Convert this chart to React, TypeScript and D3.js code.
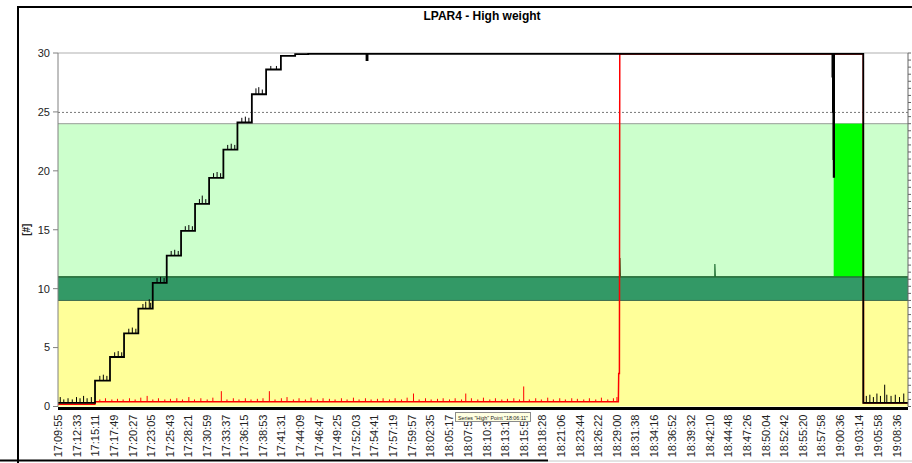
import React from 'react';
import * as d3 from 'd3';

// time values are minutes past 17:00
const tickLabels = [
  '17:09:55', '17:12:33', '17:15:11', '17:17:49', '17:20:27', '17:23:05', '17:25:43', '17:28:21',
  '17:30:59', '17:33:37', '17:36:15', '17:38:53', '17:41:31', '17:44:09', '17:46:47', '17:49:25',
  '17:52:03', '17:54:41', '17:57:19', '17:59:57', '18:02:35', '18:05:17', '18:07:56', '18:10:34',
  '18:13:12', '18:15:50', '18:18:28', '18:21:06', '18:23:44', '18:26:22', '18:29:00', '18:31:38',
  '18:34:16', '18:36:52', '18:39:32', '18:42:10', '18:44:48', '18:47:26', '18:50:04', '18:52:42',
  '18:55:20', '18:57:58', '19:00:36', '19:03:14', '19:05:58', '19:08:36',
];

const yTicks = [0, 5, 10, 15, 20, 25, 30];

// limit bands [from, to, fill]
const bands: [number, number, string][] = [
  [0, 9, '#FFFF99'],
  [9, 11, '#339966'],
  [11, 24, '#CCFFCC'],
];

// alarm area [start, end, low, high]
const alarm = [119.68, 123.87, 11, 24];

// "High" series, step levels
const highSteps: [number, number][] = [
  [9.88, 0.3], [15.12, 2.2], [17.24, 4.2], [19.23, 6.2], [21.25, 8.3], [23.29, 10.5],
  [25.27, 12.8], [27.3, 14.9], [29.28, 17.2], [31.27, 19.4], [33.29, 21.8], [35.28, 24.1],
  [37.32, 26.5], [39.34, 28.6], [41.43, 29.75], [43.45, 29.9], [45.3, 29.92], [53.55, 29.4],
  [53.7, 29.92], [119.5, 28], [119.57, 25], [119.63, 21], [119.68, 19.5], [119.74, 29.92],
  [123.87, 0.3], [130.2, 0.3],
];

const highSpikes: [number, number][] = [
  [10.2, 0.8], [10.7, 0.6], [11.3, 0.7], [11.9, 0.6], [12.5, 0.8], [13.0, 0.7], [13.5, 0.9], [14.0, 0.7], [14.6, 0.8],
  [15.8, 2.6], [16.3, 2.7], [16.8, 2.6],
  [17.9, 4.6], [18.4, 4.7], [18.9, 4.6],
  [19.9, 6.6], [20.4, 6.7], [20.9, 6.6],
  [21.9, 8.7], [22.3, 8.9], [22.8, 9.1], [23.0, 8.8],
  [23.9, 10.9], [24.4, 11.0], [24.9, 10.9],
  [25.9, 13.2], [26.4, 13.3], [26.9, 13.2],
  [27.9, 15.3], [28.4, 15.4], [28.9, 15.3],
  [29.9, 17.6], [30.3, 17.9], [30.8, 17.6],
  [31.9, 19.8], [32.4, 19.9], [32.9, 19.8],
  [33.9, 22.2], [34.4, 22.3], [34.9, 22.2],
  [35.9, 24.5], [36.4, 24.6], [36.9, 24.5],
  [37.9, 27.0], [38.3, 27.1], [38.8, 26.9],
  [40.0, 28.9], [40.8, 28.9],
  [124.3, 0.9], [124.8, 1.0], [125.3, 0.8], [125.8, 1.1], [126.3, 0.9], [126.9, 1.85],
  [127.2, 1.0], [127.8, 0.9], [128.4, 1.0], [129.0, 0.8], [129.6, 1.1],
];

// "Low" series (red)
const lowLine: [number, number][] = [
  [9.88, 0.2], [15.1, 0.2], [15.14, 0.4], [89.2, 0.4], [89.25, 2.8], [89.35, 2.8], [89.4, 29.92],
  [123.87, 29.92], [123.9, 0.3], [130.2, 0.3],
];

const lowSpikes: [number, number][] = [
  [15.8, 0.6], [16.6, 0.7], [17.5, 0.6], [18.3, 0.65], [19.1, 0.6], [20.0, 0.7], [20.8, 0.6], [21.6, 0.75],
  [22.5, 0.9], [23.3, 0.6], [24.1, 0.7], [25.0, 0.6], [25.8, 0.65], [26.7, 0.7], [27.5, 0.6], [28.4, 0.8],
  [29.2, 0.6], [30.1, 0.7], [31.0, 0.6], [31.8, 0.75], [33.0, 1.3], [33.8, 0.6], [34.7, 0.7], [35.5, 0.6],
  [36.4, 0.7], [37.2, 0.6], [38.1, 0.65], [38.9, 0.7], [39.8, 1.3], [40.6, 0.6], [41.5, 0.7], [42.3, 0.8],
  [43.2, 0.6], [44.0, 0.7], [44.9, 0.6], [45.7, 0.75], [46.6, 0.6], [47.4, 0.7], [48.3, 0.65], [49.1, 0.6],
  [50.0, 0.7], [50.8, 0.6], [51.7, 0.75], [52.5, 0.6], [53.4, 0.7], [54.2, 0.6], [55.1, 0.65], [55.9, 0.7],
  [56.8, 0.6], [57.6, 0.7], [58.5, 0.6], [59.3, 0.75], [60.2, 1.1], [61.0, 0.6], [61.9, 0.7], [62.7, 0.6],
  [63.6, 0.65], [64.4, 0.7], [65.3, 0.6], [66.1, 0.7], [67.0, 0.6], [67.6, 1.1], [68.4, 0.7], [69.3, 0.6],
  [70.1, 0.75], [71.0, 0.6], [71.8, 0.7], [72.7, 0.6], [73.5, 0.65], [74.4, 0.7], [75.2, 0.6], [75.8, 1.7],
  [76.6, 0.6], [77.5, 0.7], [78.3, 0.6], [79.2, 0.75], [80.0, 0.6], [80.9, 0.7], [81.7, 0.6], [82.6, 0.7],
  [83.4, 0.65], [84.3, 0.6], [85.1, 0.7], [86.0, 0.6], [86.8, 0.75], [87.7, 0.6], [88.5, 0.7], [89.0, 0.8],
];

// third series (dark green), mostly on the 11 limit line
const limitLine: [number, number][] = [
  [9.88, 11], [89.42, 11], [89.43, 12.6], [89.5, 11], [102.85, 11], [102.86, 12.1], [102.93, 11], [130.2, 11],
];

const toMin = (s: string) => {
  const [h, m, sec] = s.split(':').map(Number);
  return (h - 17) * 60 + m + sec / 60;
};

const W = 912;
const H = 463;
const plot = { left: 58, right: 908, top: 53, bottom: 406.5 };

const App: React.FC = () => {
  const x = d3.scaleLinear().domain([9.88, 130.2]).range([plot.left, plot.right]);
  const y = d3.scaleLinear().domain([0, 30]).range([plot.bottom, plot.top]);

  const stepLine = d3.line<[number, number]>()
    .x((d) => x(d[0]))
    .y((d) => y(d[1]))
    .curve(d3.curveStepAfter);
  const line = d3.line<[number, number]>()
    .x((d) => x(d[0]))
    .y((d) => y(d[1]));

  const bis = d3.bisector((d: [number, number]) => d[0]).right;
  const highBase = (m: number) => highSteps[Math.max(0, bis(highSteps, m) - 1)][1];

  const spikePath = (list: [number, number][], base: (m: number) => number) =>
    list.map(([m, v]) => `M${x(m)},${y(base(m))}V${y(v)}`).join('');

  const rightTicks = d3.range(0, 30.01, 0.6);
  const font = 'Liberation Sans, Arial, sans-serif';

  return (
    <svg width={W} height={H} style={{ position: 'absolute', left: 0, top: 0, background: '#fff' }} fontFamily={font}>
      <rect x={0} y={0} width={W} height={H} fill="#fff" />
      <defs>
        <clipPath id="plotclip">
          <rect x={plot.left} y={plot.top - 2} width={plot.right - plot.left} height={plot.bottom - plot.top + 2} />
        </clipPath>
      </defs>

      {bands.map(([a, b, c]) => (
        <rect key={a} x={plot.left} width={plot.right - plot.left} y={y(b)} height={y(a) - y(b)} fill={c} />
      ))}
      {[9, 11].map((v) => (
        <line key={v} x1={plot.left} x2={plot.right} y1={y(v)} y2={y(v)} stroke="#3d6b4d" strokeWidth={1} />
      ))}
      <line x1={plot.left} x2={plot.right} y1={y(24)} y2={y(24)} stroke="#a8b0a8" strokeWidth={1.2} />
      <line x1={plot.left} x2={plot.right} y1={y(25) + 0.5} y2={y(25) + 0.5} stroke="#777" strokeDasharray="2,2" />
      <line x1={plot.left} x2={plot.right} y1={y(30)} y2={y(30)} stroke="#b0b0b0" strokeWidth={1.2} />

      <rect x={x(alarm[0])} width={x(alarm[1]) - x(alarm[0])} y={y(alarm[3])} height={y(alarm[2]) - y(alarm[3])} fill="#00FF00" />

      <g clipPath="url(#plotclip)">
        <path d={line(limitLine) ?? ''} fill="none" stroke="#1f6e32" strokeWidth={1.2} />
        <path d={line(lowLine) ?? ''} fill="none" stroke="#ff0000" strokeWidth={1.5} />
        <path d={spikePath(lowSpikes, () => 0.4)} fill="none" stroke="#ff0000" strokeWidth={1} />
        <path d={stepLine(highSteps) ?? ''} fill="none" stroke="#000" strokeWidth={1.8} />
        <path d={spikePath(highSpikes, highBase)} fill="none" stroke="#000" strokeWidth={1} />
      </g>

      {/* left axis */}
      <line x1={plot.left} x2={plot.left} y1={plot.top} y2={plot.bottom} stroke="#808080" />
      {yTicks.map((t) => (
        <g key={t}>
          <line x1={plot.left - 5} x2={plot.left} y1={y(t)} y2={y(t)} stroke="#808080" />
          <text x={plot.left - 8} y={y(t)} dy="0.35em" textAnchor="end" fontSize={11} fill="#222">{t}</text>
        </g>
      ))}
      <text transform={`translate(30,${(plot.top + plot.bottom) / 2}) rotate(-90)`} textAnchor="middle" fontSize={10} fontWeight="bold" fill="#222">[#]</text>

      {/* right axis */}
      <line x1={plot.right} x2={plot.right} y1={plot.top} y2={plot.bottom} stroke="#666" />
      {rightTicks.map((t) => (
        <line key={t} x1={plot.right} x2={plot.right + 3} y1={y(t)} y2={y(t)} stroke="#666" />
      ))}

      {/* bottom axis */}
      <line x1={plot.left} x2={plot.right} y1={plot.bottom + 2} y2={plot.bottom + 2} stroke="#000" strokeWidth={3} />
      {tickLabels.map((s) => (
        <text key={s} transform={`translate(${x(toMin(s))},${plot.bottom + 8}) rotate(-90)`} dy="0.35em" textAnchor="end" fontSize={11} fill="#222">{s}</text>
      ))}

      {/* hint box */}
      <rect x={455.5} y={412.5} width={75} height={9} fill="#ffffe1" stroke="#8a8a8a" />
      <text x={458} y={419.5} fontSize={6} textLength={70} lengthAdjust="spacingAndGlyphs" fill="#222">Series "High" Point "18:06:11"</text>

      {/* title */}
      <text x={482} y={20} textAnchor="middle" fontSize={12} fontWeight="bold" fill="#000">LPAR4 - High weight</text>

      {/* frame */}
      <line x1={18} x2={W} y1={7} y2={7} stroke="#000" strokeWidth={2} />
      <line x1={18} x2={18} y1={6} y2={H} stroke="#000" strokeWidth={2} />
      <line x1={0} x2={548} y1={460.5} y2={460.5} stroke="#000" strokeWidth={2} />
      <line x1={548} x2={W} y1={461} y2={461} stroke="#c8c8c8" strokeWidth={1} />
    </svg>
  );
};

export default App;
